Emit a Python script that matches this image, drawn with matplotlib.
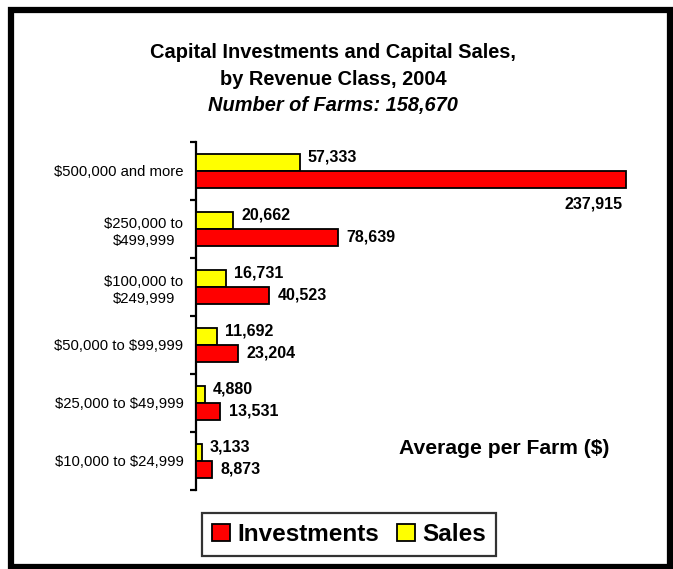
import numpy as np
import matplotlib.pyplot as plt
from matplotlib.patches import Rectangle

plt.rcParams["font.family"] = ["Liberation Sans", "DejaVu Sans"]

# data (top to bottom as shown)
classes = [
    "\\$500,000 and more",
    "\\$250,000 to\n\\$499,999",
    "\\$100,000 to\n\\$249,999",
    "\\$50,000 to \\$99,999",
    "\\$25,000 to \\$49,999",
    "\\$10,000 to \\$24,999",
]
investments = [237915, 78639, 40523, 23204, 13531, 8873]
sales = [57333, 20662, 16731, 11692, 4880, 3133]

W, H = 673, 569
fig = plt.figure(figsize=(W / 100, H / 100), dpi=100)

# axes placed in pixel terms
x0, x1 = 196, 648
y_top, y_bot = 142, 490
ax = fig.add_axes([x0 / W, (H - y_bot) / H, (x1 - x0) / W, (y_bot - y_top) / H])

y = np.arange(len(classes))
bh = 0.29
ax.barh(y - bh / 2, sales, height=bh, color="#FFFF00", edgecolor="black",
        linewidth=1.3, label="Sales", zorder=3)
ax.barh(y + bh / 2, investments, height=bh, color="#FF0000", edgecolor="black",
        linewidth=1.3, label="Investments", zorder=3)

ax.set_ylim(len(classes) - 0.5, -0.5)
ax.set_xlim(0, 250000)

# value labels
vmax = max(investments)
for i, v in enumerate(sales):
    ax.annotate(f"{v:,}", xy=(v, i - bh / 2), xytext=(5.8, 4.0),
                textcoords="offset points", ha="left", va="center",
                fontsize=11.5, fontweight="bold")
for i, v in enumerate(investments):
    if v == vmax:
        ax.annotate(f"{v:,}", xy=(v, i + bh / 2), xytext=(-2.5, -18),
                    textcoords="offset points", ha="right", va="center",
                    fontsize=11.5, fontweight="bold")
    else:
        ax.annotate(f"{v:,}", xy=(v, i + bh / 2), xytext=(5.8, 0),
                    textcoords="offset points", ha="left", va="center",
                    fontsize=11.5, fontweight="bold")

# spines and ticks
for s in ["top", "right", "bottom"]:
    ax.spines[s].set_visible(False)
ax.spines["left"].set_linewidth(1.6)
ax.set_xticks([])
ax.set_yticks(np.arange(len(classes) + 1) - 0.5)
ax.set_yticklabels([])
ax.tick_params(axis="y", which="major", length=4, width=1.6, direction="out")
ax.set_yticks(y, minor=True)
ax.set_yticklabels(classes, minor=True, fontsize=10.7, multialignment="center",
                   linespacing=1.3)
ax.tick_params(axis="y", which="minor", length=0, pad=9)

# titles
fig.text(0.495, (H - 58) / H, "Capital Investments and Capital Sales,",
         ha="center", va="baseline", fontsize=14.4, fontweight="bold")
fig.text(0.495, (H - 85) / H, "by Revenue Class, 2004",
         ha="center", va="baseline", fontsize=14.4, fontweight="bold")
fig.text(0.495, (H - 111) / H, "Number of Farms: 158,670",
         ha="center", va="baseline", fontsize=14.4, fontweight="bold",
         style="italic")

fig.text(504 / W, (H - 448) / H, "Average per Farm (\\$)", ha="center",
         va="center", fontsize=15.2, fontweight="bold")

# legend
handles, labels = ax.get_legend_handles_labels()
leg = fig.legend(handles[::-1], labels[::-1], loc="center",
                 bbox_to_anchor=(349 / W, (H - 534.5) / H), ncol=2,
                 frameon=True, fancybox=False, edgecolor="black",
                 prop={"size": 17.5, "weight": "bold"}, handlelength=0.75,
                 handleheight=0.7, handletextpad=0.3, columnspacing=0.7,
                 borderpad=0.42, borderaxespad=0)
leg.get_frame().set_linewidth(1.6)

# outer border
fig.patches.append(Rectangle((11.5 / W, 2 / H), (669.5 - 11.5) / W, (559 - 2) / H,
                             transform=fig.transFigure, fill=False,
                             edgecolor="black", linewidth=4.5))

fig.savefig("out.png", dpi=100)
